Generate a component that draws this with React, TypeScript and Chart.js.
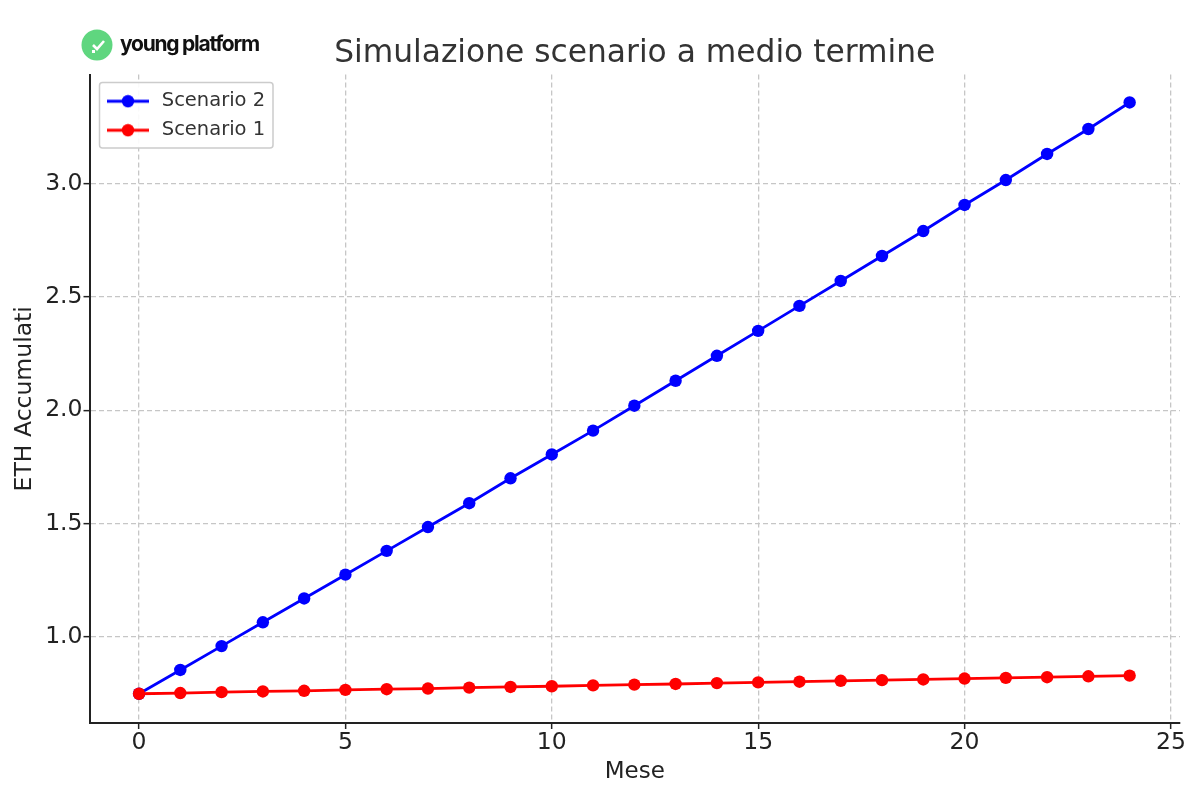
import React, { useEffect, useRef } from "react";
import { Chart, registerables } from "chart.js";

Chart.register(...registerables);

const months = [0, 1, 2, 3, 4, 5, 6, 7, 8, 9, 10, 11, 12, 13, 14, 15, 16, 17, 18, 19, 20, 21, 22, 23, 24];
const scenario2 = [0.75, 0.855, 0.96, 1.065, 1.17, 1.275, 1.38, 1.485, 1.59, 1.7, 1.805, 1.91, 2.02, 2.13, 2.24, 2.35, 2.46, 2.57, 2.68, 2.79, 2.905, 3.015, 3.13, 3.24, 3.357];
const scenario1 = [0.75, 0.753, 0.757, 0.76, 0.763, 0.767, 0.77, 0.773, 0.777, 0.78, 0.783, 0.787, 0.79, 0.793, 0.797, 0.8, 0.803, 0.807, 0.81, 0.813, 0.817, 0.82, 0.823, 0.827, 0.83];

const titleText = "Simulazione scenario a medio termine";
const xLabel = "Mese";
const yLabel = "ETH Accumulati";
const logoText = "young platform";
const FONT = "'DejaVu Sans'";

function legendGlyph(color: string) {
  const c = document.createElement("canvas");
  c.width = 48;
  c.height = 14;
  const g = c.getContext("2d")!;
  g.strokeStyle = color;
  g.lineWidth = 2.8;
  g.beginPath();
  g.moveTo(3, 7);
  g.lineTo(45, 7);
  g.stroke();
  g.fillStyle = color;
  g.beginPath();
  g.arc(24, 7, 6.2, 0, Math.PI * 2);
  g.fill();
  return c;
}

const logoPlugin = {
  id: "logo",
  afterDraw(chart: any) {
    const g = chart.ctx;
    g.save();
    g.fillStyle = "#5fd67f";
    g.beginPath();
    g.arc(97, 45, 15.5, 0, Math.PI * 2);
    g.fill();
    g.strokeStyle = "#ffffff";
    g.lineWidth = 2.6;
    g.beginPath();
    g.moveTo(93, 45);
    g.lineTo(97, 49);
    g.lineTo(104, 41);
    g.stroke();
    g.fillStyle = "#ffffff";
    g.fillRect(92, 50, 3, 3);
    g.fillStyle = "#111111";
    g.font = "700 21px Inter";
    g.textBaseline = "alphabetic";
    g.textAlign = "left";
    (g as any).letterSpacing = "-1.25px";
    g.fillText(logoText, 120, 51);
    g.restore();
  },
};

const legendFramePlugin = {
  id: "legendFrame",
  afterLayout(chart: any) {
    const lg = chart.legend;
    if (!lg) return;
    lg.left = 94.5;
    lg.top = 82;
    if (lg.__wrapped) return;
    lg.__wrapped = true;
    const orig = lg.draw;
    lg.draw = function (...args: any[]) {
      const g = chart.ctx;
      g.save();
      g.fillStyle = "rgba(255,255,255,0.9)";
      g.strokeStyle = "#cccccc";
      g.lineWidth = 1.5;
      g.beginPath();
      g.roundRect(99.5, 82.5, 173.5, 65.5, 3);
      g.fill();
      g.stroke();
      g.restore();
      orig.apply(this, args);
    };
  },
};

export default function App() {
  const ref = useRef<HTMLCanvasElement>(null);

  useEffect(() => {
    const glyphs: Record<string, HTMLCanvasElement> = {
      "Scenario 2": legendGlyph("#0000ff"),
      "Scenario 1": legendGlyph("#ff0000"),
    };
    const tickColor = "#222222";
    const gridColor = "#c6c6c6";
    const chart = new Chart(ref.current!, {
      type: "line",
      data: {
        datasets: [
          {
            label: "Scenario 2",
            data: months.map((m, i) => ({ x: m, y: scenario2[i] })),
            borderColor: "#0000ff",
            backgroundColor: "#0000ff",
            borderWidth: 2.8,
            pointRadius: 6.2,
            pointBorderWidth: 0,
            tension: 0,
            order: 2,
          },
          {
            label: "Scenario 1",
            data: months.map((m, i) => ({ x: m, y: scenario1[i] })),
            borderColor: "#ff0000",
            backgroundColor: "#ff0000",
            borderWidth: 2.8,
            pointRadius: 6.2,
            pointBorderWidth: 0,
            tension: 0,
            order: 1,
          },
        ],
      },
      options: {
        animation: false,
        responsive: false,
        devicePixelRatio: 1,
        layout: { padding: { left: 0, right: 20, top: 0, bottom: 0 } },
        plugins: {
          tooltip: { enabled: false },
          title: {
            display: true,
            text: titleText,
            fullSize: false,
            color: "#333333",
            font: { family: FONT, size: 31.3, weight: "normal", lineHeight: 1.2 },
            padding: { top: 35, bottom: 2 },
          },
          legend: {
            position: "chartArea" as any,
            align: "start",
            labels: {
              usePointStyle: true,
              pointStyleWidth: 48,
              padding: 9.5,
              color: "#333333",
              font: { family: FONT, size: 19.5 },
              sort: (a: any, b: any) => a.datasetIndex - b.datasetIndex,
              generateLabels: (c: any) =>
                (Chart.defaults.plugins.legend.labels.generateLabels as any)(c).map((it: any) => ({
                  ...it,
                  pointStyle: glyphs[it.text],
                })),
            },
          },
        },
        scales: {
          x: {
            type: "linear",
            min: -1.2,
            max: 25.22,
            afterFit: (s: any) => {
              s.height = 75;
            },
            title: {
              display: true,
              text: xLabel,
              color: tickColor,
              font: { family: FONT, size: 23 },
              padding: { top: 0, bottom: 12 },
            },
            ticks: {
              stepSize: 5,
              includeBounds: false,
              maxRotation: 0,
              color: tickColor,
              padding: 0,
              font: { family: FONT, size: 23.5 },
            },
            border: { display: true, color: "#222222", width: 2, dash: [5, 3] },
            grid: {
              color: gridColor,
              lineWidth: 1.3,
              tickLength: 6,
              tickColor: "#222222",
              tickWidth: 1.5,
            },
          },
          y: {
            type: "linear",
            min: 0.621,
            max: 3.48,
            afterFit: (s: any) => {
              s.width = 89.5;
            },
            title: {
              display: true,
              text: yLabel,
              color: tickColor,
              font: { family: FONT, size: 23.5 },
              padding: { top: 11, bottom: 0 },
            },
            ticks: {
              stepSize: 0.5,
              includeBounds: false,
              color: tickColor,
              padding: 1,
              font: { family: FONT, size: 23.5 },
              callback: (v: any) => Number(v).toFixed(1),
            },
            border: { display: true, color: "#222222", width: 2, dash: [5, 3] },
            grid: {
              color: gridColor,
              lineWidth: 1.3,
              tickLength: 6,
              tickColor: "#222222",
              tickWidth: 1.5,
            },
          },
        },
      },
      plugins: [logoPlugin, legendFramePlugin],
    } as any);
    return () => chart.destroy();
  }, []);

  return (
    <div style={{ position: "absolute", left: 0, top: 0, width: 1200, height: 798, background: "#ffffff" }}>
      <canvas ref={ref} width={1200} height={798} style={{ display: "block", width: 1200, height: 798 }} />
    </div>
  );
}
